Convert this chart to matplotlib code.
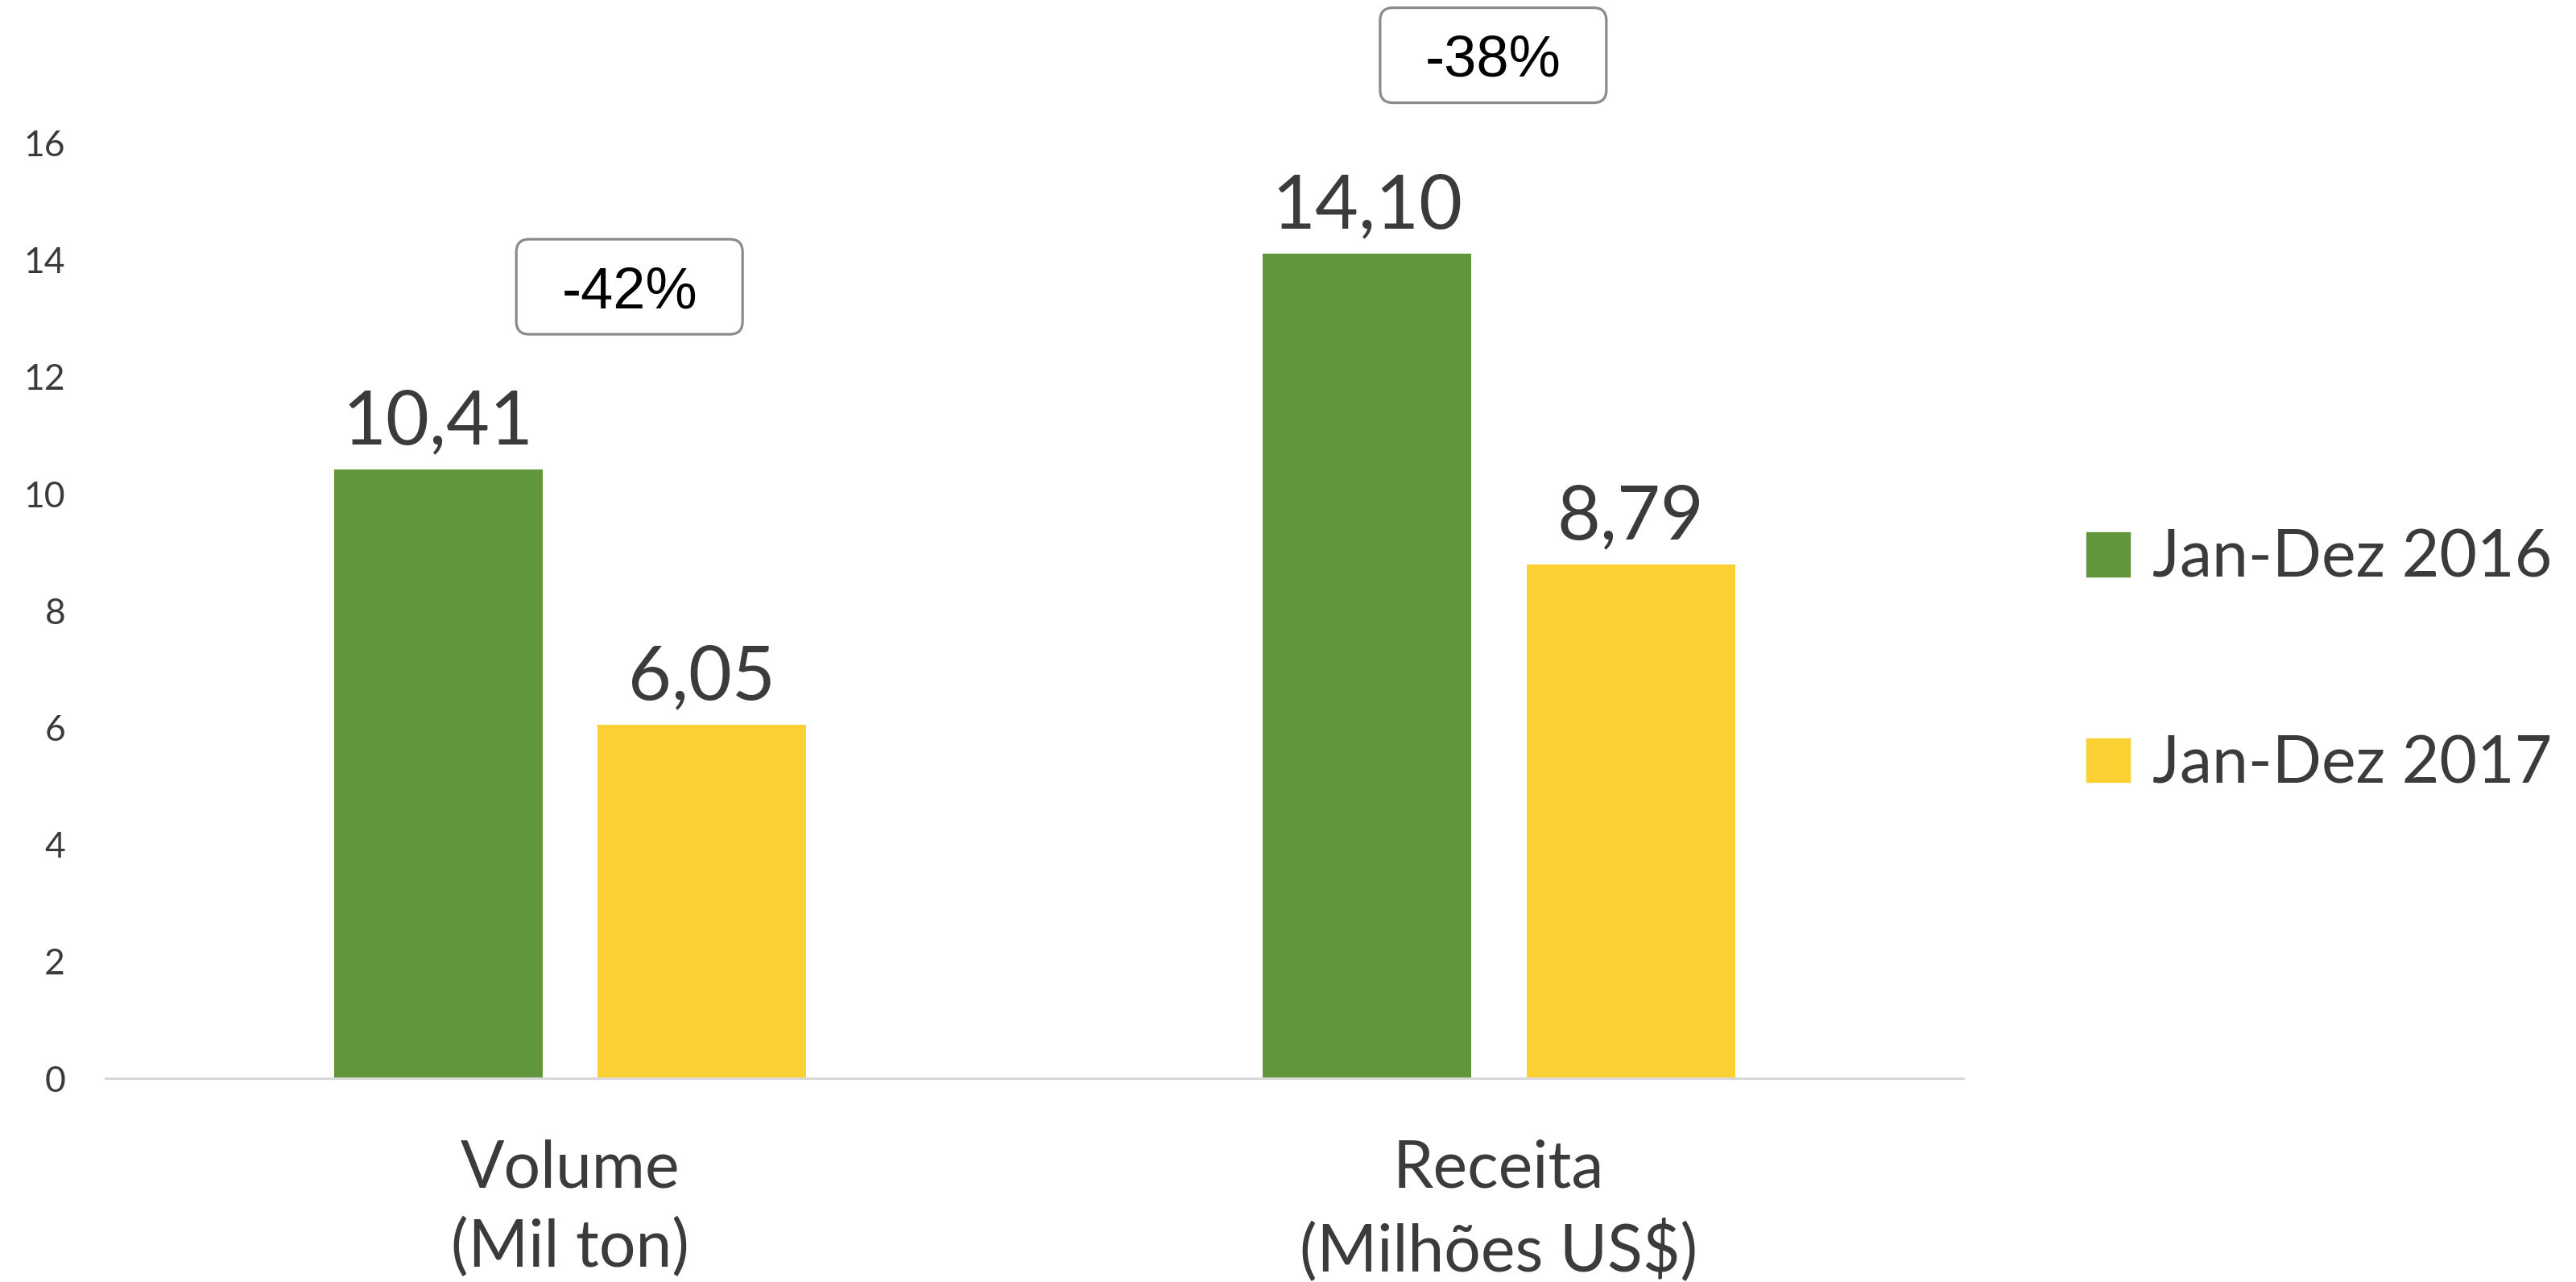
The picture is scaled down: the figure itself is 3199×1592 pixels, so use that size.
import matplotlib
matplotlib.use("Agg")
import matplotlib.pyplot as plt
import matplotlib.transforms as mtransforms
from matplotlib.patches import FancyBboxPatch, Patch
import numpy as np

categories = ["Volume\n(Mil ton)", "Receita\n(Milhões US$)"]
series_names = ["Jan-Dez 2016", "Jan-Dez 2017"]
values_2016 = [10.41, 14.10]
values_2017 = [6.05, 8.79]
changes = ["-42%", "-38%"]
yticks = [0, 2, 4, 6, 8, 10, 12, 14, 16]

GREEN = "#61963C"
YELLOW = "#FBD032"
TXT = "#3B3B3B"
FONT = ["Lato", "DejaVu Sans"]

fig = plt.figure(figsize=(31.99, 15.92), dpi=100)
ax = fig.add_axes([0.041, 0.1589, 0.7211, 0.7296])

x = np.arange(len(categories))
w = 0.2246
off = 0.142
b1 = ax.bar(x - off, values_2016, w, color=GREEN, label=series_names[0], zorder=2)
b2 = ax.bar(x + off, values_2017, w, color=YELLOW, label=series_names[1], zorder=2)

for bars, vals in ((b1, values_2016), (b2, values_2017)):
    for r, v in zip(bars, vals):
        ax.annotate(f"{v:.2f}".replace(".", ","),
                    xy=(r.get_x() + r.get_width() / 2, v),
                    xytext=(0, 23), textcoords="offset points",
                    ha="center", va="baseline", fontsize=67,
                    color=TXT, family=FONT)

ax.set_xlim(-0.5, 1.5)
ax.set_ylim(0, 16)
ax.set_yticks(yticks)
ax.set_yticklabels([str(t) for t in yticks], fontsize=32, color=TXT, family=FONT)
ax.tick_params(axis="y", length=0, pad=36)
ax.set_xticks(x)
ax.set_xticklabels(categories, fontsize=58, color=TXT, family=FONT, linespacing=1.38)
ax.tick_params(axis="x", length=0, pad=54)
for s in ("top", "right", "left"):
    ax.spines[s].set_visible(False)
ax.spines["bottom"].set_color("#D9D9D9")
ax.spines["bottom"].set_linewidth(2.2)

# change boxes
box_pos = [(0.064, 13.54), (0.994, 17.5)]
bw, bh = 2.81, 1.18
for (bx, by), lab in zip(box_pos, changes):
    trans = fig.dpi_scale_trans + mtransforms.ScaledTranslation(bx, by, ax.transData)
    p = FancyBboxPatch((-bw / 2, -bh / 2), bw, bh,
                       boxstyle="round,pad=0,rounding_size=0.16",
                       transform=trans, facecolor="white", edgecolor="#8A8A8A",
                       linewidth=2.3, clip_on=False, zorder=3)
    ax.add_patch(p)
    ax.text(bx, by, lab, ha="center", va="center_baseline", fontsize=52,
            family=["Liberation Sans", "DejaVu Sans"], color="black",
            zorder=4, clip_on=False)

handles = [Patch(color=GREEN), Patch(color=YELLOW)]
leg = fig.legend(handles, series_names, loc="center left",
                 bbox_to_anchor=(0.8, 0.484), frameon=False,
                 prop={"family": FONT, "size": 58},
                 handlelength=0.66, handleheight=0.66, handletextpad=0.35,
                 labelspacing=2.25, borderaxespad=0)
for t in leg.get_texts():
    t.set_color(TXT)

fig.savefig("out.png", dpi=100)
